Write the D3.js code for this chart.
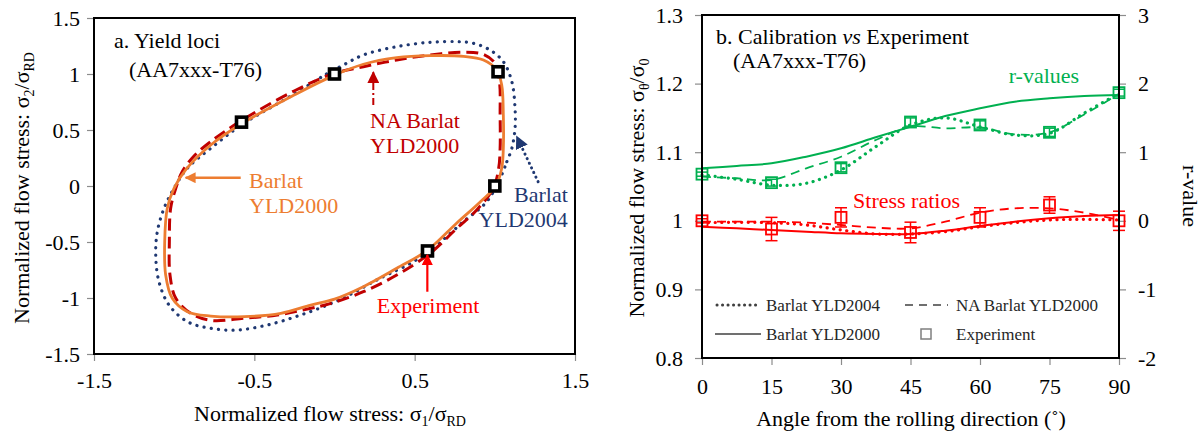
<!DOCTYPE html>
<html>
<head>
<meta charset="utf-8">
<script src="https://cdn.jsdelivr.net/npm/d3@7"></script>
<style>
  body { margin: 0; background: #fff; }
  svg text { font-family: "Liberation Serif", "Times New Roman", serif; }
</style>
</head>
<body>
<svg id="chart" width="1202" height="434"></svg>
<script>
// ======= PANEL A: yield loci, points as [s1/sRD, s2/sRD] =======
const expS1 = [-0.58, 0.0, 1.02, 1.0, 0.58]
const expS2 = [0.57, 1.0, 1.02, 0.0, -0.58]

const yld2000Locus = [
  [1.006, 0.0], [1.043, 0.158], [1.053, 0.336], [1.053, 0.634], [1.043, 0.902],
  [1.012, 1.036], [0.929, 1.125], [0.804, 1.158], [0.596, 1.164], [0.388, 1.146],
  [0.18, 1.087], [0.0, 0.99], [-0.252, 0.812], [-0.575, 0.56], [-0.772, 0.366],
  [-0.925, 0.15], [-1.001, -0.021], [-1.043, -0.199], [-1.059, -0.497], [-1.053, -0.795],
  [-1.012, -1.003], [-0.918, -1.122], [-0.772, -1.161], [-0.564, -1.167], [-0.335, -1.137],
  [-0.148, -1.063], [0.0, -1.01], [0.18, -0.899], [0.388, -0.735], [0.579, -0.575],
  [0.763, -0.33], [0.91, -0.14]
]
const naYld2000Locus = [
  [0.991, -0.02], [1.024, 0.158], [1.033, 0.336], [1.033, 0.634], [1.029, 0.931],
  [1.001, 1.095], [0.929, 1.176], [0.804, 1.194], [0.596, 1.17], [0.388, 1.125],
  [0.18, 1.065], [-0.013, 1.0], [-0.252, 0.848], [-0.575, 0.589], [-0.772, 0.396],
  [-0.876, 0.268], [-0.949, 0.13], [-0.99, -0.02], [-1.022, -0.199], [-1.03, -0.497],
  [-1.026, -0.795], [-0.99, -1.003], [-0.897, -1.137], [-0.772, -1.2], [-0.564, -1.181],
  [-0.357, -1.152], [-0.148, -1.092], [-0.028, -1.05], [0.18, -0.944], [0.388, -0.795],
  [0.596, -0.601], [0.763, -0.378], [0.887, -0.214]
]
const yld2004Locus = [
  [1.033, 0.069], [1.075, 0.217], [1.106, 0.336], [1.126, 0.515], [1.126, 0.694],
  [1.106, 0.931], [1.053, 1.11], [0.97, 1.214], [0.866, 1.274], [0.763, 1.289],
  [0.596, 1.283], [0.388, 1.244], [0.18, 1.17], [0.055, 1.08], [-0.05, 1.0],
  [-0.252, 0.82], [-0.575, 0.55], [-0.772, 0.336], [-0.918, 0.158], [-1.001, -0.02],
  [-1.063, -0.199], [-1.105, -0.408], [-1.115, -0.616], [-1.095, -0.854], [-1.032, -1.063],
  [-0.918, -1.211], [-0.772, -1.271], [-0.606, -1.286], [-0.419, -1.241], [-0.211, -1.152],
  [0.028, -1.018], [0.284, -0.824], [0.492, -0.676], [0.638, -0.527], [0.804, -0.318],
  [0.95, -0.14]
]
const xTicksA = [-1.5, -0.5, 0.5, 1.5]
const yTicksA = [-1.5, -1, -0.5, 0, 0.5, 1, 1.5]

// ======= PANEL B: calibration vs experiment =======
const angles = [0, 15, 30, 45, 60, 75, 90]
const angleFine = [0, 7.5, 15, 22.5, 30, 37.5, 45, 52.5, 60, 67.5, 75, 82.5, 90]

const ratioExp = [1.0, 0.988, 1.005, 0.983, 1.005, 1.023, 1.0]
const ratioErr = [0.003, 0.017, 0.014, 0.015, 0.014, 0.012, 0.014]
const rExp = [0.68, 0.556, 0.774, 1.44, 1.397, 1.29, 1.868]
const rErr = [0.03, 0.05, 0.06, 0.06, 0.06, 0.06, 0.05]

const ratioYld2000 = [0.9914, 0.989, 0.9866, 0.9842, 0.9817, 0.9808, 0.9808, 0.9856, 0.9924, 0.9987, 1.0036, 1.007, 1.0085]
const ratioYld2004 = [0.9973, 0.9978, 0.9973, 0.9939, 0.9866, 0.9808, 0.9808, 0.9842, 0.9914, 0.9973, 1.0012, 1.0021, 1.0012]
const ratioNaYld2000 = [0.9987, 0.9987, 0.9987, 0.9973, 0.9939, 0.99, 0.989, 0.9987, 1.0119, 1.0182, 1.0182, 1.0119, 1.0012]

const rYld2000 = [0.765, 0.799, 0.838, 0.935, 1.057, 1.217, 1.372, 1.528, 1.64, 1.737, 1.786, 1.819, 1.834]
const rYld2004 = [0.67, 0.605, 0.52, 0.547, 0.741, 1.08, 1.397, 1.5, 1.37, 1.25, 1.275, 1.57, 1.858]
const rNaYld2000 = [0.643, 0.62, 0.595, 0.765, 0.934, 1.178, 1.372, 1.348, 1.36, 1.26, 1.29, 1.55, 1.85]

const yTicksB = [0.8, 0.9, 1, 1.1, 1.2, 1.3]
const rTicks = [-2, -1, 0, 1, 2, 3]

const orange = '#ed7d31'
const darkRed = '#c00000'
const navy = '#1f3872'
const red = '#ff0000'
const green = '#00b050'

const svg = d3.select('#chart')

// arrow heads
const defs = svg.append('defs')
const arrowHead = (id, color, size) => defs.append('marker')
  .attr('id', id)
  .attr('viewBox', '0 0 10 10')
  .attr('refX', 9).attr('refY', 5)
  .attr('markerWidth', size).attr('markerHeight', size)
  .attr('markerUnits', 'userSpaceOnUse')
  .attr('orient', 'auto')
  .append('path').attr('d', 'M0,0 L10,5 L0,10 z').attr('fill', color)
arrowHead('ah-orange', orange, 11)
arrowHead('ah-darkred', darkRed, 12)
arrowHead('ah-navy', navy, 13)
arrowHead('ah-red', red, 11)

const styleAxis = (g, size) => {
  g.select('.domain').remove()
  g.selectAll('.tick line').attr('stroke', '#8c8c8c').attr('stroke-width', 1.2)
  g.selectAll('.tick text').attr('font-size', size).attr('fill', '#000')
    .attr('font-family', '"Liberation Serif", "Times New Roman", serif')
}

// ======= PANEL A =======
const a = { left: 94, top: 18, width: 481, height: 336 }
const xA = d3.scaleLinear().domain([-1.5, 1.5]).range([0, a.width])
const yA = d3.scaleLinear().domain([-1.5, 1.5]).range([a.height, 0])
const gA = svg.append('g').attr('transform', `translate(${a.left},${a.top})`)

gA.append('g')
  .attr('transform', `translate(0,${a.height})`)
  .call(d3.axisBottom(xA).tickValues(xTicksA).tickSize(7).tickPadding(11).tickFormat(d => d))
  .call(g => styleAxis(g, 22))
gA.append('g')
  .call(d3.axisLeft(yA).tickValues(yTicksA).tickSize(7).tickPadding(7).tickFormat(d => d))
  .call(g => styleAxis(g, 22))

const locusLine = d3.line()
  .x(d => xA(d[0]))
  .y(d => yA(d[1]))
  .curve(d3.curveCatmullRomClosed.alpha(0.5))

gA.append('path').attr('d', locusLine(yld2004Locus))
  .attr('fill', 'none').attr('stroke', navy).attr('stroke-width', 3.2)
  .attr('stroke-linecap', 'round').attr('stroke-dasharray', '0.1 7.2')
gA.append('path').attr('d', locusLine(naYld2000Locus))
  .attr('fill', 'none').attr('stroke', darkRed).attr('stroke-width', 3)
  .attr('stroke-dasharray', '12 6')
gA.append('path').attr('d', locusLine(yld2000Locus))
  .attr('fill', 'none').attr('stroke', orange).attr('stroke-width', 2.8)

gA.selectAll('rect.exp')
  .data(expS1.map((s, i) => [s, expS2[i]]))
  .join('rect')
    .attr('class', 'exp')
    .attr('x', d => xA(d[0]) - 5)
    .attr('y', d => yA(d[1]) - 5)
    .attr('width', 10).attr('height', 10)
    .attr('fill', '#fff').attr('stroke', '#000').attr('stroke-width', 3.6)

gA.append('rect')
  .attr('width', a.width).attr('height', a.height)
  .attr('fill', 'none').attr('stroke', '#000').attr('stroke-width', 2)

// annotations (anchored in data units)
const note = (g, lines, x, y, color, anchor) => {
  const t = g.append('text').attr('font-size', 22).attr('fill', color).attr('text-anchor', anchor || 'start')
  lines.forEach((s, i) => t.append('tspan').attr('x', x).attr('y', y + i * 25).text(s))
}
const arrow = (g, x1, y1, x2, y2, color, marker, dash, w) => g.append('line')
  .attr('x1', x1).attr('y1', y1).attr('x2', x2).attr('y2', y2)
  .attr('stroke', color).attr('stroke-width', w || 2.2)
  .attr('stroke-dasharray', dash || null)
  .attr('stroke-linecap', dash === '0.1 5' ? 'round' : 'butt')
  .attr('marker-end', `url(#${marker})`)

gA.append('text').attr('x', 20).attr('y', 30).attr('font-size', 22).text('a.  Yield loci')
gA.append('text').attr('x', 35).attr('y', 59).attr('font-size', 22).text('(AA7xxx-T76)')

note(gA, ['NA Barlat', 'YLD2000'], xA(0.222), yA(0.518), darkRed)
arrow(gA, xA(0.242), yA(0.723), xA(0.242), yA(1.015), darkRed, 'ah-darkred', '7 3 2 3', 2)

note(gA, ['Barlat', 'YLD2000'], xA(-0.533), yA(-0.018), orange)
arrow(gA, xA(-0.585), yA(0.074), xA(-0.928), yA(0.074), orange, 'ah-orange', null, 2.4)

note(gA, ['Barlat', 'YLD2004'], xA(1.455), yA(-0.14), navy, 'end')
arrow(gA, xA(1.27), yA(0.038), xA(1.137), yA(0.44), navy, 'ah-navy', '0.1 5', 3)

note(gA, ['Experiment'], xA(0.264), yA(-1.134), red)
arrow(gA, xA(0.579), yA(-0.944), xA(0.579), yA(-0.616), red, 'ah-red', null, 2.2)

// axis titles panel A
const titleA = svg.append('text')
  .attr('x', 330).attr('y', 421).attr('font-size', 22).attr('text-anchor', 'middle')
titleA.append('tspan').text('Normalized flow stress: σ')
titleA.append('tspan').attr('font-size', 14).attr('dy', 5).text('1')
titleA.append('tspan').attr('dy', -5).text('/σ')
titleA.append('tspan').attr('font-size', 14).attr('dy', 5).text('RD')

const yTitleA = svg.append('text')
  .attr('transform', 'translate(29,188) rotate(-90)')
  .attr('font-size', 22).attr('text-anchor', 'middle')
yTitleA.append('tspan').text('Normalized flow stress: σ')
yTitleA.append('tspan').attr('font-size', 14).attr('dy', 5).text('2')
yTitleA.append('tspan').attr('dy', -5).text('/σ')
yTitleA.append('tspan').attr('font-size', 14).attr('dy', 5).text('RD')

// ======= PANEL B =======
const b = { left: 702, top: 15, width: 417, height: 343 }
const xB = d3.scaleLinear().domain([0, 90]).range([0, b.width])
const yB = d3.scaleLinear().domain([0.8, 1.3]).range([b.height, 0])
const rB = d3.scaleLinear().domain([-2, 3]).range([b.height, 0])
const gB = svg.append('g').attr('transform', `translate(${b.left},${b.top})`)

gB.append('g')
  .attr('transform', `translate(0,${b.height})`)
  .call(d3.axisBottom(xB).tickValues(angles).tickSize(7).tickPadding(13).tickFormat(d => d))
  .call(g => styleAxis(g, 22))
gB.append('g')
  .call(d3.axisLeft(yB).tickValues(yTicksB).tickSize(7).tickPadding(12).tickFormat(d => d))
  .call(g => styleAxis(g, 22))
gB.append('g')
  .attr('transform', `translate(${b.width},0)`)
  .call(d3.axisRight(rB).tickValues(rTicks).tickSize(7).tickPadding(12).tickFormat(d => d))
  .call(g => styleAxis(g, 22))

const ratioLine = vals => d3.line()
  .x((d, i) => xB(angleFine[i]))
  .y(d => yB(d))
  .curve(d3.curveCatmullRom.alpha(0.5))(vals)
const rLine = vals => d3.line()
  .x((d, i) => xB(angleFine[i]))
  .y(d => rB(d))
  .curve(d3.curveCatmullRom.alpha(0.5))(vals)

const dotted = p => p.attr('stroke-width', 3.2).attr('stroke-linecap', 'round').attr('stroke-dasharray', '0.1 6.5')
const dashed = p => p.attr('stroke-width', 1.8).attr('stroke-dasharray', '9 6')
const solid = p => p.attr('stroke-width', 2)

const seriesB = [
  { d: rLine(rYld2000), color: green, style: solid },
  { d: rLine(rNaYld2000), color: green, style: dashed },
  { d: rLine(rYld2004), color: green, style: dotted },
  { d: ratioLine(ratioYld2000), color: red, style: solid },
  { d: ratioLine(ratioNaYld2000), color: red, style: dashed },
  { d: ratioLine(ratioYld2004), color: red, style: dotted }
]
seriesB.forEach(s => {
  gB.append('path').attr('d', s.d).attr('fill', 'none').attr('stroke', s.color).call(s.style)
})

// experiment: markers with error bars
const ratioPts = angles.map((a, i) => ({ a, v: ratioExp[i], e: ratioErr[i] }))
const rPts = angles.map((a, i) => ({ a, v: rExp[i], e: rErr[i] }))

const errorBars = (pts, scale, color) => {
  const g = gB.append('g').attr('stroke', color).attr('stroke-width', 1.5).attr('fill', 'none')
  pts.forEach(p => {
    const x = xB(p.a), y1 = scale(p.v - p.e), y2 = scale(p.v + p.e)
    g.append('line').attr('x1', x).attr('x2', x).attr('y1', y1).attr('y2', y2)
    g.append('line').attr('x1', x - 6).attr('x2', x + 6).attr('y1', y1).attr('y2', y1)
    g.append('line').attr('x1', x - 6).attr('x2', x + 6).attr('y1', y2).attr('y2', y2)
  })
  g.selectAll('rect')
    .data(pts)
    .join('rect')
      .attr('x', p => xB(p.a) - 5.5)
      .attr('y', p => scale(p.v) - 5.5)
      .attr('width', 11).attr('height', 11)
      .attr('stroke-width', 1.8)
}
errorBars(rPts, rB, green)
errorBars(ratioPts, yB, red)

gB.append('rect')
  .attr('width', b.width).attr('height', b.height)
  .attr('fill', 'none').attr('stroke', '#000').attr('stroke-width', 2)

// titles and labels
const tB = gB.append('text').attr('x', 14).attr('y', 29).attr('font-size', 22)
tB.append('tspan').text('b.  Calibration ')
tB.append('tspan').attr('font-style', 'italic').text('vs')
tB.append('tspan').text(' Experiment')
gB.append('text').attr('x', 31).attr('y', 53).attr('font-size', 22).text('(AA7xxx-T76)')

gB.append('text').attr('x', xB(66.2)).attr('y', rB(2.015)).attr('font-size', 22).attr('fill', green).text('r-values')
gB.append('text').attr('x', xB(32.6)).attr('y', yB(1.018)).attr('font-size', 22).attr('fill', red).text('Stress ratios')

// legend
const legendItems = [
  { label: 'Barlat YLD2004', kind: 'dotted', col: 0, row: 0 },
  { label: 'NA Barlat YLD2000', kind: 'dashed', col: 1, row: 0 },
  { label: 'Barlat YLD2000', kind: 'solid', col: 0, row: 1 },
  { label: 'Experiment', kind: 'square', col: 1, row: 1 }
]
const legend = gB.append('g').attr('transform', 'translate(13,290)')
legendItems.forEach(it => {
  const gx = it.col * 190, gy = it.row * 29
  const g = legend.append('g').attr('transform', `translate(${gx},${gy})`)
  if (it.kind === 'square') {
    g.append('rect').attr('x', 16).attr('y', -5).attr('width', 10).attr('height', 10)
      .attr('fill', 'none').attr('stroke', '#7f7f7f').attr('stroke-width', 1.5)
  } else {
    const ln = g.append('line').attr('x1', 0).attr('x2', 43).attr('y1', 0).attr('y2', 0)
      .attr('stroke', '#404040')
    if (it.kind === 'dotted') ln.attr('stroke-width', 3).attr('stroke-linecap', 'round').attr('stroke-dasharray', '0.1 5.4').attr('x1', 2)
    if (it.kind === 'dashed') ln.attr('stroke-width', 1.6).attr('stroke-dasharray', '8 6')
    if (it.kind === 'solid') ln.attr('stroke-width', 1.6).attr('x2', 46)
  }
  g.append('text').attr('x', 51).attr('y', 6).attr('font-size', 17).attr('fill', '#262626').text(it.label)
})

// axis titles panel B
svg.append('text').attr('x', 911).attr('y', 426).attr('font-size', 22)
  .attr('text-anchor', 'middle').text('Angle  from the rolling direction (˚)')

const yTitleB = svg.append('text')
  .attr('transform', 'translate(644,188) rotate(-90)')
  .attr('font-size', 22).attr('text-anchor', 'middle')
yTitleB.append('tspan').text('Normalized flow stress: σ')
yTitleB.append('tspan').attr('font-size', 14).attr('dy', 5).text('θ')
yTitleB.append('tspan').attr('dy', -5).text('/σ')
yTitleB.append('tspan').attr('font-size', 14).attr('dy', 5).text('0')

svg.append('text')
  .attr('transform', 'translate(1183,196) rotate(90)')
  .attr('font-size', 22).attr('text-anchor', 'middle').text('r-value')
</script>
</body>
</html>
